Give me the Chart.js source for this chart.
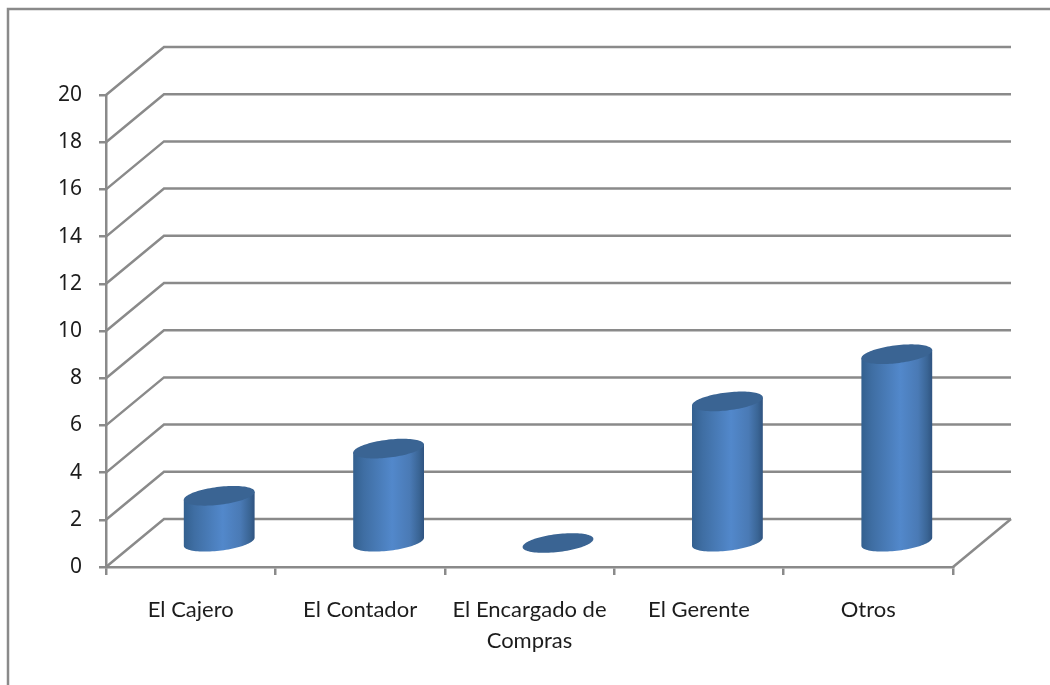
<!DOCTYPE html>
<html>
<head>
<meta charset="utf-8">
<title>Chart</title>
<script src="https://cdn.jsdelivr.net/npm/chart.js@4/dist/chart.umd.min.js"></script>
<style>
  html, body { margin: 0; padding: 0; background: #fff; }
  canvas { display: block; filter: blur(0.5px); }
</style>
</head>
<body>
<canvas id="chart" width="1050" height="685"></canvas>
<script>
const categories = ["El Cajero", "El Contador", ["El Encargado de", "Compras"], "El Gerente", "Otros"];
const values = [2, 4, 0, 6, 8];
const yMax = 20;
const yStep = 2;

const lineColor = "#8a8a8a";
const textColor = "#1c1c1c";
// depth of the fake 3d box, in pixels
const depthX = 58;
const depthY = 48;

// back wall, side lines and floor, drawn from the axis scales
const box3d = {
  id: "box3d",
  beforeDatasetsDraw(chart) {
    const { ctx, scales } = chart;
    const left = scales.x.left;
    const right = scales.x.right;
    ctx.save();
    ctx.strokeStyle = lineColor;
    ctx.lineWidth = 2.5;

    // outer frame
    ctx.beginPath();
    ctx.moveTo(8, 685);
    ctx.lineTo(8, 9);
    ctx.lineTo(1050, 9);
    ctx.stroke();

    scales.y.ticks.forEach((tick) => {
      const y = scales.y.getPixelForValue(tick.value);
      ctx.beginPath();
      ctx.moveTo(left, y);
      ctx.lineTo(left + depthX, y - depthY);
      ctx.lineTo(right + depthX, y - depthY);
      ctx.stroke();
    });

    const floor = scales.y.getPixelForValue(0);
    ctx.beginPath();
    ctx.moveTo(right, floor);
    ctx.lineTo(right + depthX, floor - depthY);
    ctx.stroke();
    ctx.restore();
  },
};

// cylinders, placed on the bar elements chart.js worked out
const cylinders = {
  id: "cylinders",
  afterDatasetsDraw(chart) {
    const { ctx } = chart;
    chart.getDatasetMeta(0).data.forEach((bar) => {
      const cx = bar.x + depthX / 2 - 0.5;
      const top = bar.y - depthY / 2;
      const bottom = bar.base - depthY / 2;
      const rx = bar.width / 2;
      const slant = 4;
      const ry = 9;
      const ringPoint = (cy, t) => [
        cx + rx * Math.cos(t),
        cy - slant * Math.cos(t) + ry * Math.sin(t),
      ];

      ctx.save();
      if (bottom - top > 1) {
        const grad = ctx.createLinearGradient(cx - rx, 0, cx + rx, 0);
        grad.addColorStop(0, "#33608f");
        grad.addColorStop(0.15, "#3f6ea3");
        grad.addColorStop(0.55, "#5288cb");
        grad.addColorStop(0.8, "#4a7ab5");
        grad.addColorStop(0.93, "#3a6595");
        grad.addColorStop(1, "#2f5380");
        ctx.fillStyle = grad;
        ctx.beginPath();
        ctx.moveTo(...ringPoint(top, 0));
        for (let i = 0; i <= 48; i++) {
          ctx.lineTo(...ringPoint(bottom, (Math.PI * i) / 48));
        }
        ctx.lineTo(...ringPoint(top, Math.PI));
        ctx.closePath();
        ctx.fill();
      }
      ctx.fillStyle = "#3a6493";
      ctx.beginPath();
      for (let i = 0; i <= 96; i++) {
        ctx.lineTo(...ringPoint(top, (Math.PI * 2 * i) / 96));
      }
      ctx.closePath();
      ctx.fill();
      ctx.restore();
    });
  },
};

new Chart(document.getElementById("chart"), {
  type: "bar",
  data: {
    labels: categories,
    datasets: [
      {
        data: values,
        backgroundColor: "rgba(0,0,0,0)",
        barPercentage: 1,
        categoryPercentage: 0.418,
      },
    ],
  },
  options: {
    responsive: false,
    animation: false,
    layout: { padding: { top: 95, right: 97, left: 0, bottom: 0 } },
    plugins: { legend: { display: false }, tooltip: { enabled: false } },
    scales: {
      x: {
        afterFit(scale) {
          scale.height = 118;
        },
        grid: { drawOnChartArea: false, color: lineColor, lineWidth: 2.5, tickLength: 8 },
        border: { color: lineColor, width: 2.5 },
        ticks: {
          color: textColor,
          padding: 19,
          maxRotation: 0,
          font: { family: "Lato", size: 22, lineHeight: 1.41 },
        },
      },
      y: {
        min: 0,
        max: yMax,
        afterFit(scale) {
          scale.width = 106;
        },
        grid: { drawOnChartArea: false, color: lineColor, lineWidth: 2.5, tickLength: 7 },
        border: { color: lineColor, width: 2.5 },
        ticks: {
          stepSize: yStep,
          color: textColor,
          padding: 17,
          font: { family: "Noto Sans", size: 21 },
        },
      },
    },
  },
  plugins: [box3d, cylinders],
});
</script>
</body>
</html>
